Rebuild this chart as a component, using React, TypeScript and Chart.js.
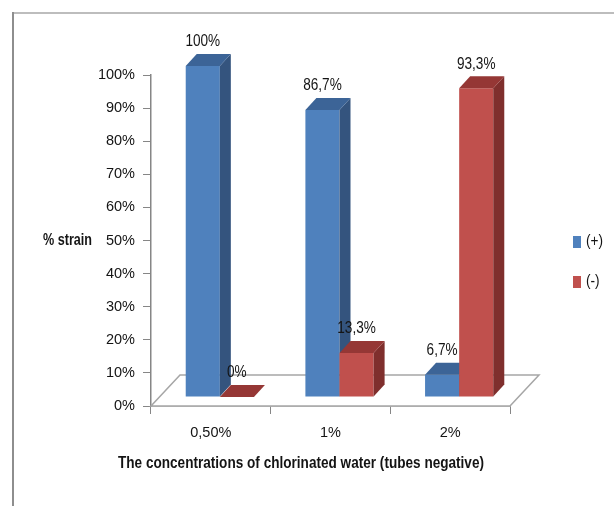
import React, { useEffect, useRef } from "react";
import { Chart, registerables } from "chart.js";

Chart.register(...registerables);

// Concentrations of chlorinated water tested
const categories = ["0,50%", "1%", "2%"];
// Share of strains per concentration (%)
const positiveValues = [100, 86.7, 6.7];
const negativeValues = [0, 13.3, 93.3];
const seriesNames = ["(+)", "(-)"];
const yTickValues = [0, 10, 20, 30, 40, 50, 60, 70, 80, 90, 100];

const yTitle = "% strain";
const xTitle = "The concentrations of chlorinated water (tubes negative)";

const FONT = '"Liberation Sans", Arial, sans-serif';
const TEXT = "#141414";
const AXIS = "#868686";

// face colours: front, side, top
const palette = [
  { front: "#4f81bd", side: "#34547e", top: "#3c6497" },
  { front: "#c0504d", side: "#7f2f2d", top: "#953735" },
];

// 3D projection offsets
const BAR_SHIFT = { x: 9, y: -9 };
const BAR_DEPTH = { x: 11, y: -12 };
const FLOOR_DEPTH = { x: 29, y: -31 };

const fmt = (v: number) =>
  (Number.isInteger(v) ? String(v) : v.toFixed(1).replace(".", ",")) + "%";

// text drawn narrower than the face's natural width
function condensedText(ctx: CanvasRenderingContext2D, text: string, x: number, y: number, sx: number) {
  ctx.save();
  ctx.translate(x, y);
  ctx.scale(sx, 1);
  ctx.fillText(text, 0, 0);
  ctx.restore();
}

const threeD = {
  id: "threeD",
  beforeDraw(chart: any) {
    const { ctx, width, height } = chart;
    ctx.save();
    ctx.fillStyle = "#ffffff";
    ctx.fillRect(0, 0, width, height);
    // outer frame
    ctx.fillStyle = "#bdbdbd";
    ctx.fillRect(12, 12, width - 12, 2);
    ctx.fillStyle = "#8e8e8e";
    ctx.fillRect(12, 12, 2, height - 12);
    ctx.restore();
  },
  beforeDatasetsDraw(chart: any) {
    const { ctx, chartArea } = chart;
    const { left, right, bottom } = chartArea;

    // floor of the 3D plot
    ctx.save();
    ctx.beginPath();
    ctx.moveTo(left, bottom);
    ctx.lineTo(right, bottom);
    ctx.lineTo(right + FLOOR_DEPTH.x, bottom + FLOOR_DEPTH.y);
    ctx.lineTo(left + FLOOR_DEPTH.x, bottom + FLOOR_DEPTH.y);
    ctx.closePath();
    ctx.fillStyle = "#ffffff";
    ctx.fill();
    ctx.strokeStyle = "#a6a6a6";
    ctx.lineWidth = 1.5;
    ctx.stroke();
    ctx.restore();

    // bars, series by series, each with its side and top faces
    chart.data.datasets.forEach((_ds: any, i: number) => {
      const meta = chart.getDatasetMeta(i);
      const colors = palette[i];
      ctx.save();
      ctx.translate(BAR_SHIFT.x, BAR_SHIFT.y);
      meta.controller.draw();
      meta.data.forEach((el: any) => {
        const { x, y, base, width } = el.getProps(["x", "y", "base", "width"], true);
        const l = x - width / 2;
        const r = x + width / 2;
        const dx = BAR_DEPTH.x;
        const dy = BAR_DEPTH.y;
        ctx.beginPath();
        ctx.moveTo(r, y);
        ctx.lineTo(r + dx, y + dy);
        ctx.lineTo(r + dx, base + dy);
        ctx.lineTo(r, base);
        ctx.closePath();
        ctx.fillStyle = colors.side;
        ctx.fill();
        ctx.beginPath();
        ctx.moveTo(l, y);
        ctx.lineTo(l + dx, y + dy);
        ctx.lineTo(r + dx, y + dy);
        ctx.lineTo(r, y);
        ctx.closePath();
        ctx.fillStyle = colors.top;
        ctx.fill();
      });
      ctx.restore();
    });

    // value labels
    ctx.save();
    ctx.font = `16px ${FONT}`;
    ctx.fillStyle = TEXT;
    ctx.textAlign = "center";
    ctx.textBaseline = "middle";
    chart.data.datasets.forEach((ds: any, i: number) => {
      const meta = chart.getDatasetMeta(i);
      meta.data.forEach((el: any, j: number) => {
        condensedText(ctx, fmt(ds.data[j]), el.x + BAR_SHIFT.x, el.y + BAR_SHIFT.y - 24, 0.85);
      });
    });
    ctx.restore();
    return false;
  },
  afterDraw(chart: any) {
    const { ctx } = chart;
    ctx.save();
    ctx.fillStyle = TEXT;
    ctx.textBaseline = "middle";
    ctx.font = `bold 17px ${FONT}`;
    ctx.textAlign = "left";
    ctx.fillText(yTitle, 43, 240, 49);
    ctx.textAlign = "center";
    ctx.fillText(xTitle, 301, 463, 366);
    // legend
    ctx.font = `16px ${FONT}`;
    ctx.textAlign = "left";
    chart.data.datasets.forEach((ds: any, i: number) => {
      const cy = 242 + i * 40;
      ctx.fillStyle = ds.backgroundColor;
      ctx.fillRect(573, cy - 6, 8, 12);
      ctx.fillStyle = TEXT;
      condensedText(ctx, ds.label, 586, cy, 0.85);
    });
    ctx.restore();
  },
};

export default function App() {
  const ref = useRef<HTMLCanvasElement | null>(null);

  useEffect(() => {
    if (!ref.current) return;
    const chart = new Chart(ref.current, {
      type: "bar",
      data: {
        labels: categories,
        datasets: [
          { label: seriesNames[0], data: positiveValues, backgroundColor: palette[0].front },
          { label: seriesNames[1], data: negativeValues, backgroundColor: palette[1].front },
        ],
      },
      options: {
        responsive: false,
        animation: false,
        devicePixelRatio: 1,
        layout: { padding: { left: 0, top: 75, right: 104, bottom: 0 } },
        datasets: {
          bar: {
            barPercentage: 1,
            categoryPercentage: 0.57,
            borderWidth: 0,
            inflateAmount: 0,
          },
        },
        plugins: {
          legend: { display: false },
          tooltip: { enabled: false },
        },
        scales: {
          x: {
            grid: {
              display: true,
              drawOnChartArea: false,
              drawTicks: true,
              tickLength: 8,
              color: AXIS,
              offset: true,
            },
            border: { display: true, color: AXIS, width: 1.5 },
            ticks: {
              color: TEXT,
              font: { family: FONT, size: 14.5 },
              padding: 10,
              maxRotation: 0,
            },
            afterFit: (scale: any) => {
              scale.height = 100;
            },
          },
          y: {
            min: 0,
            max: 100,
            afterBuildTicks: (scale: any) => {
              scale.ticks = yTickValues.map((v) => ({ value: v }));
            },
            grid: {
              display: true,
              drawOnChartArea: false,
              drawTicks: true,
              tickLength: 8,
              color: AXIS,
            },
            border: { display: true, color: AXIS, width: 1.5 },
            ticks: {
              color: TEXT,
              font: { family: FONT, size: 14.5 },
              padding: 8,
              callback: (v: any) => `${v}%`,
            },
            afterFit: (scale: any) => {
              scale.width = 151;
            },
          },
        },
      },
      plugins: [threeD],
    });
    return () => chart.destroy();
  }, []);

  return (
    <div style={{ position: "absolute", left: 0, top: 0, width: 614, height: 506 }}>
      <canvas ref={ref} width={614} height={506} style={{ display: "block" }} />
    </div>
  );
}
